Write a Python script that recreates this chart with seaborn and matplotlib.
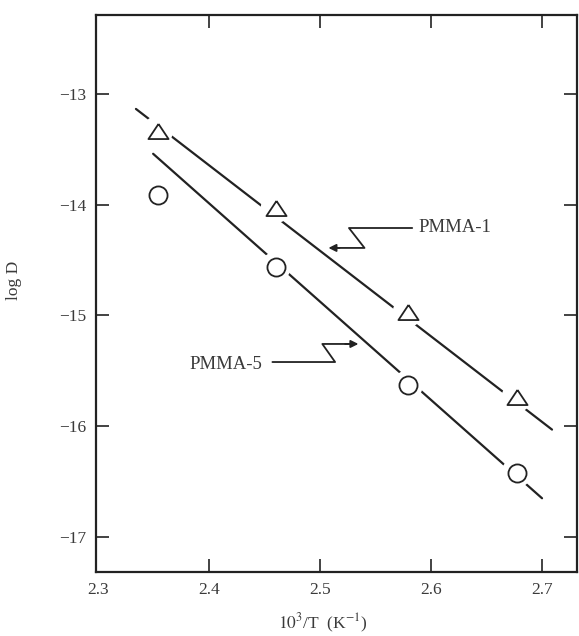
import matplotlib
matplotlib.use("Agg")
import matplotlib.pyplot as plt
import seaborn as sns
import pandas as pd

# ---- data ----
inv_T = [2.354, 2.460, 2.579, 2.677]
logD_pmma1 = [-13.33, -14.03, -14.97, -15.74]
logD_pmma5 = [-13.91, -14.56, -15.63, -16.42]

fit1_x = [2.334, 2.709]
fit1_y = [-13.135, -16.03]
fit5_x = [2.3495, 2.700]
fit5_y = [-13.54, -16.65]

xticks = [2.3, 2.4, 2.5, 2.6, 2.7]
yticks = [-13, -14, -15, -16, -17]

sns.set_theme(style="ticks")
plt.rcParams['font.family'] = ['Liberation Serif', 'DejaVu Serif']
plt.rcParams['mathtext.fontset'] = 'stix'
plt.rcParams['axes.unicode_minus'] = True

ink = '#222222'
txt = '#3a3a3a'

fig = plt.figure(figsize=(5.79, 6.36), dpi=100)
ax = fig.add_axes([0.1658, 0.1006, 0.8307, 0.8758])

df1 = pd.DataFrame({'x': inv_T, 'y': logD_pmma1})
df5 = pd.DataFrame({'x': inv_T, 'y': logD_pmma5})
f1 = pd.DataFrame({'x': fit1_x, 'y': fit1_y})
f5 = pd.DataFrame({'x': fit5_x, 'y': fit5_y})

sns.lineplot(data=f1, x='x', y='y', ax=ax, color=ink, lw=1.6, zorder=2)
sns.lineplot(data=f5, x='x', y='y', ax=ax, color=ink, lw=1.6, zorder=2)

# white halos to break the lines around markers
for d in (df1, df5):
    sns.scatterplot(data=d, x='x', y='y', ax=ax, marker='o', s=470,
                    color='white', edgecolor='none', linewidth=0, zorder=3)

tri = [(0, 0.75), (-1, -0.75), (1, -0.75), (0, 0.75)]
sns.scatterplot(data=df1, x='x', y='y', ax=ax, marker=tri, s=210,
                facecolor='white', edgecolor=ink, linewidth=1.3, zorder=4)
sns.scatterplot(data=df5, x='x', y='y', ax=ax, marker='o', s=170,
                facecolor='white', edgecolor=ink, linewidth=1.3, zorder=4)

# annotations with zig-zag leaders
ax.plot([2.583, 2.526, 2.540, 2.515], [-14.21, -14.21, -14.39, -14.39],
        color=ink, lw=1.3, zorder=5)
ax.annotate('', xy=(2.505, -14.39), xytext=(2.52, -14.39),
            arrowprops=dict(arrowstyle='-|>', color=ink, lw=1.3, mutation_scale=11))
ax.text(2.589, -14.21, 'PMMA-1', fontsize=13.5, color=txt, va='center', ha='left')

ax.plot([2.457, 2.5135, 2.502, 2.528], [-15.42, -15.42, -15.257, -15.257],
        color=ink, lw=1.3, zorder=5)
ax.annotate('', xy=(2.537, -15.257), xytext=(2.52, -15.257),
            arrowprops=dict(arrowstyle='-|>', color=ink, lw=1.3, mutation_scale=11))
ax.text(2.448, -15.44, 'PMMA-5', fontsize=13.5, color=txt, va='center', ha='right')

ax.set_xlim(2.298, 2.7315)
ax.set_ylim(-17.316, -12.287)
ax.set_xticks(xticks)
ax.set_yticks(yticks)
ax.set_xticklabels([f'{v:.1f}' for v in xticks])
ax.set_yticklabels([f'\u2212{abs(v)}' for v in yticks])

for s in ax.spines.values():
    s.set_visible(True)
    s.set_linewidth(1.6)
    s.set_color(ink)

ax.tick_params(direction='in', length=9.5, width=1.2, color=ink,
               top=True, right=True, labeltop=False, labelright=False,
               labelsize=12.5, labelcolor=txt, pad=7)
# hide tick marks that coincide with the left spine
for t in ax.xaxis.get_major_ticks()[:1]:
    t.tick1line.set_visible(False)
    t.tick2line.set_visible(False)

ax.set_xlabel(r'$10^3$/T  (K$^{-1}$)', fontsize=12.5, color=txt)
ax.set_ylabel('log D', fontsize=12.5, color=txt)
ax.xaxis.set_label_coords(0.472, -0.072)
ax.yaxis.set_label_coords(-0.154, 0.524)

fig.savefig('out.png', dpi=100)
